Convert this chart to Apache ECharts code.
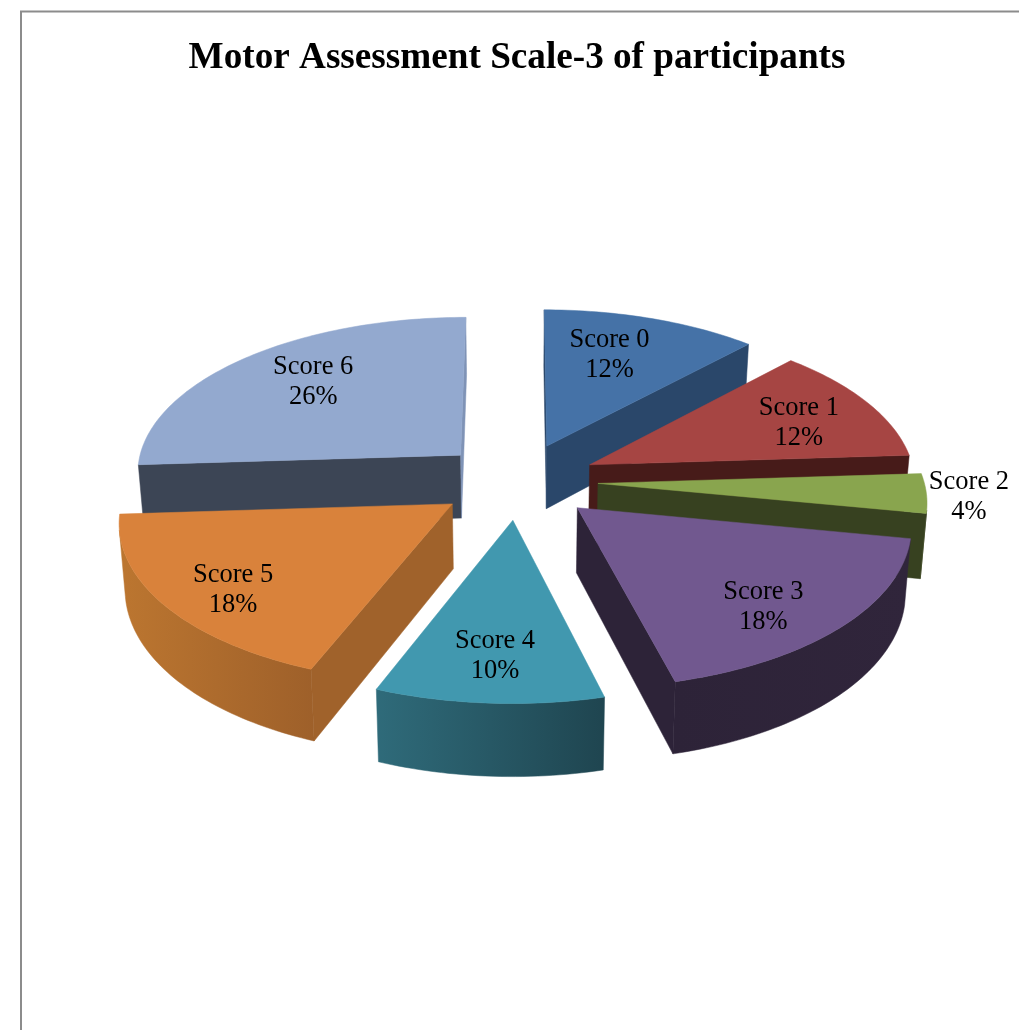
<!DOCTYPE html>
<html>
<head>
<meta charset="utf-8">
<style>html,body{margin:0;padding:0;background:#fff}#c{width:1019px;height:1030px}</style>
<script src="https://cdn.jsdelivr.net/npm/echarts@6/dist/echarts.min.js"></script>
</head>
<body>
<div id="c"></div>
<script>
const titleText = 'Motor Assessment Scale-3 of participants';
const categories = ['Score 0', 'Score 1', 'Score 2', 'Score 3', 'Score 4', 'Score 5', 'Score 6'];
const values = [12, 12, 4, 18, 10, 18, 26];

// styling, one entry per slice
const topColors = ['#4572a7', '#a64543', '#89a54e', '#71588f', '#4198af', '#d9823b', '#93a9cf'];
const startWallColors = ['#2a476a', '#471b19', '#374120', '#2d2338', '#2a5f6e', '#a0622b', '#3c4555'];
const endWallColors = ['#2a476a', '#471b19', '#374120', '#2d2338', '#2a5f6e', '#a0622b', '#7f93b6'];
const rimLeftColors = ['#2a476a', '#5c2624', '#3f4a22', '#2d2338', '#2f6b7a', '#bc7630', '#556179'];
const rimRightColors = ['#2a476a', '#471b19', '#374120', '#30253b', '#1f4550', '#9e602a', '#3c4555'];

// painting order (back to front) and label placement relative to each slice
const paintOrder = [6, 0, 1, 2, 5, 3, 4];
const labelNudge = [[-3, -11], [39, -3], [173, 8], [31, 29], [-4, 30], [-49, 27], [-14, -13]];

// projection of the exploded, tilted pie
const CX = 518, CY = 481, R = 326, EXPLODE = 80, TILT = 0.48, PERSP = 0.1, DEPTH = 64, SHRINK = 0.985, LABEL_DIST = 277;
const total = values.reduce((a, b) => a + b, 0);
const project = (X, Y, low) => {
  const s = 1 / (1 - PERSP * Y / R);
  let x = CX + X * s, y = CY + Y * TILT * s;
  if (low) { y += DEPTH * s; x = CX + (x - CX) * SHRINK; }
  return [x, y];
};
const area = (p) => p.reduce((t, q, i) => {
  const n = p[(i + 1) % p.length];
  return t + q[0] * n[1] - n[0] * q[1];
}, 0);

let acc = 0;
const spans = values.map((v) => {
  const a0 = acc / total * Math.PI * 2;
  acc += v;
  return [a0, acc / total * Math.PI * 2];
});

function renderSlice(params, api) {
  const i = params.dataIndex, [a0, a1] = spans[i], mid = (a0 + a1) / 2;
  const ox = EXPLODE * Math.sin(mid), oy = -EXPLODE * Math.cos(mid);
  const rimAt = (a, low) => project(ox + R * Math.sin(a), oy - R * Math.cos(a), low);
  const apexAt = (low) => project(ox, oy, low);
  const steps = Math.max(8, Math.round((a1 - a0) / 0.02));
  const ang = [];
  for (let k = 0; k <= steps; k++) ang.push(a0 + (a1 - a0) * k / steps);
  const rank = paintOrder.indexOf(i);
  const kids = [];
  const add = (pts, fill) => kids.push({
    type: 'polygon', shape: { points: pts }, z2: rank * 10 + kids.length,
    style: { fill: fill, stroke: fill, lineWidth: 0.5 }
  });
  // radial walls, when they face the viewer
  const wallA = [apexAt(false), rimAt(a0, false), rimAt(a0, true), apexAt(true)];
  const wallB = [rimAt(a1, false), apexAt(false), apexAt(true), rimAt(a1, true)];
  if (area(wallA) < 0) add(wallA, startWallColors[i]);
  if (area(wallB) < 0) add(wallB, endWallColors[i]);
  // outer wall: only the front-facing stretch of the rim
  const vis = [];
  for (let k = 0; k < steps; k++) {
    const q = [rimAt(ang[k], false), rimAt(ang[k + 1], false), rimAt(ang[k + 1], true), rimAt(ang[k], true)];
    if (area(q) < 0) { if (!vis.length) vis.push(ang[k]); vis.push(ang[k + 1]); }
  }
  if (vis.length) {
    const pts = vis.map((a) => rimAt(a, false)).concat(vis.slice().reverse().map((a) => rimAt(a, true)));
    add(pts, new echarts.graphic.LinearGradient(0, 0, 1, 0, [
      { offset: 0, color: rimLeftColors[i] }, { offset: 1, color: rimRightColors[i] }
    ]));
  }
  // top face
  add([apexAt(false)].concat(ang.map((a) => rimAt(a, false))), topColors[i]);
  // label
  const lp = project(LABEL_DIST * Math.sin(mid), -LABEL_DIST * Math.cos(mid), false);
  kids.push({
    type: 'text', z2: 1000,
    style: {
      x: lp[0] + labelNudge[i][0], y: lp[1] + labelNudge[i][1],
      text: categories[i] + '\n' + Math.round(api.value(0) / total * 100) + '%',
      fill: '#000', font: '26.5px "Liberation Serif"', lineHeight: 30,
      align: 'center', verticalAlign: 'middle'
    }
  });
  return { type: 'group', children: kids };
}

const chart = echarts.init(document.getElementById('c'), null, { renderer: 'canvas' });
chart.setOption({
  animation: false,
  backgroundColor: '#fff',
  title: {
    text: titleText, left: 512, top: 35, textAlign: 'center',
    textStyle: { fontFamily: 'Liberation Serif', fontWeight: 'bold', fontSize: 37.2, color: '#000' }
  },
  graphic: [{
    type: 'rect', silent: true, z: -1,
    shape: { x: 21, y: 11.5, width: 1200, height: 1200 },
    style: { fill: 'none', stroke: '#8c8c8c', lineWidth: 2 }
  }],
  series: [{
    type: 'custom', coordinateSystem: 'none', renderItem: renderSlice, silent: true,
    data: values.map((v, i) => ({ name: categories[i], value: [v] }))
  }]
});
</script>
</body>
</html>
